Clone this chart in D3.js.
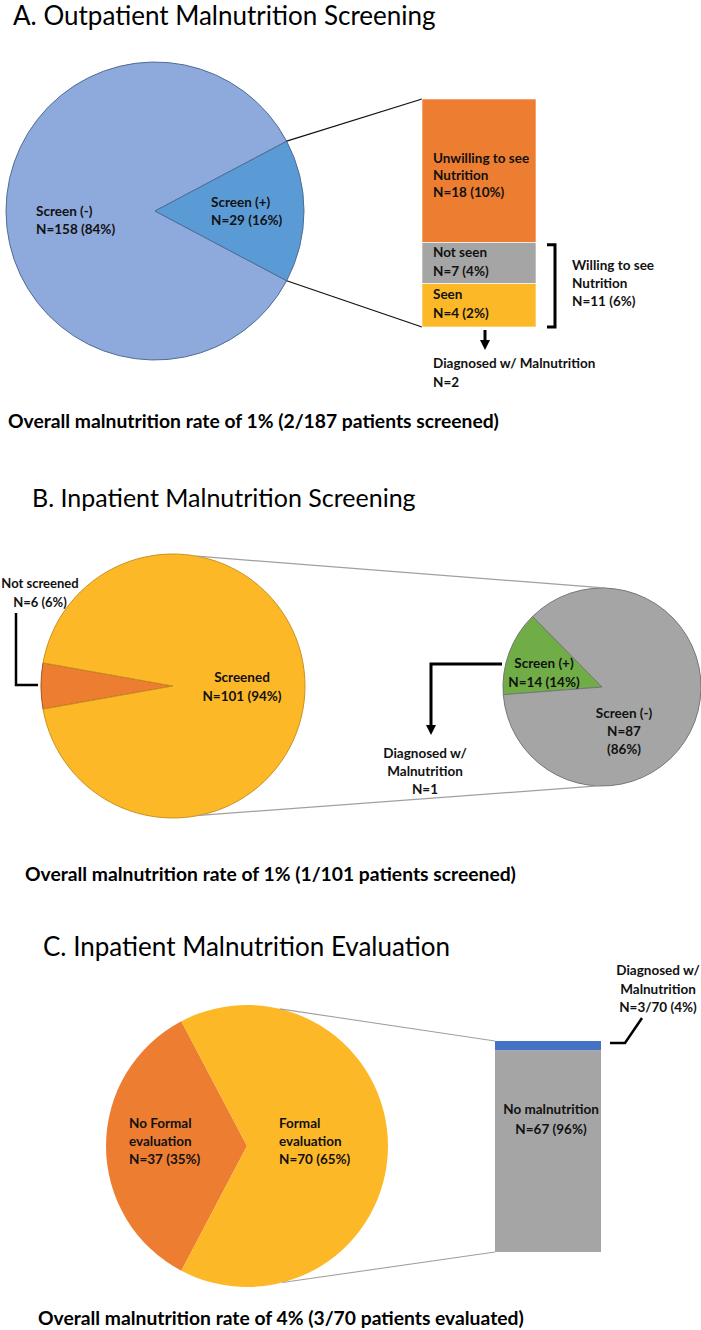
<!DOCTYPE html>
<html><head><meta charset="utf-8">
<script src="https://cdn.jsdelivr.net/npm/d3@7"></script>
<style>
body{margin:0;background:#fff}
svg{display:block}
text{font-family:Lato,"Open Sans",sans-serif;fill:#111}
</style>
</head><body>
<svg id="c" width="701" height="1330"></svg>
<script>
// ---------------- DATA ----------------
const titles = ["A. Outpatient Malnutrition Screening", "B. Inpatient Malnutrition Screening", "C. Inpatient Malnutrition Evaluation"];
const summaries = ["Overall malnutrition rate of 1% (2/187 patients screened)",
                   "Overall malnutrition rate of 1% (1/101 patients screened)",
                   "Overall malnutrition rate of 4% (3/70 patients evaluated)"];

// Panel A
const pieACategories = ["Screen (-)", "Screen (+)"];
const pieAValues = [158, 29];
const pieAPercents = ["84%", "16%"];
const barACategories = [["Unwilling to see", "Nutrition"], ["Not seen"], ["Seen"]];
const barAValues = [18, 7, 4];
const barAPercents = ["10%", "4%", "2%"];
const barADrawnShares = [63, 18, 19];   // share of the bar height as drawn in the figure
const willingLabel = ["Willing to see", "Nutrition", "N=11 (6%)"];
const diagnosedA = ["Diagnosed w/ Malnutrition", "N=2"];

// Panel B
const pieB1Categories = ["Not screened", "Screened"];
const pieB1Values = [6, 101];
const pieB1Percents = ["6%", "94%"];
const pieB2Categories = ["Screen (+)", "Screen (-)"];
const pieB2Values = [14, 87];
const pieB2Percents = ["14%", "86%"];
const diagnosedB = ["Diagnosed w/", "Malnutrition", "N=1"];

// Panel C
const pieCCategories = ["No Formal evaluation", "Formal evaluation"];
const pieCValues = [37, 70];
const pieCPercents = ["35%", "65%"];
const barCCategories = ["Diagnosed w/ Malnutrition", "No malnutrition"];
const barCValues = [3, 67];
const barCPercents = ["4%", "96%"];

// ---------------- HELPERS ----------------
const svg = d3.select("#c");
const TAU = Math.PI * 2;
const LBL = 13.5;

function lines(x, y, arr, opt = {}) {
  const size = opt.size || LBL, lh = opt.lh || 18;
  const t = svg.append("text")
    .attr("x", x).attr("y", y)
    .attr("text-anchor", opt.anchor || "start")
    .style("font-size", size + "px")
    .style("font-weight", opt.weight || 700);
  arr.forEach((s, i) => t.append("tspan").attr("x", x).attr("dy", i === 0 ? 0 : lh).text(s));
  return t;
}

function pie(cx, cy, r, values, colors, idx, centerAngle, stroke, strokeW) {
  const tot = d3.sum(values);
  const before = d3.sum(values.slice(0, idx));
  const start = centerAngle - (before + values[idx] / 2) / tot * TAU;
  const arcsData = d3.pie().sort(null).startAngle(start).endAngle(start + TAU)(values);
  const arc = d3.arc().innerRadius(0).outerRadius(r);
  const g = svg.append("g").attr("transform", `translate(${cx},${cy})`);
  g.selectAll("path").data(arcsData).join("path")
    .attr("d", arc)
    .attr("fill", (d, i) => colors[i])
    .attr("stroke", (d, i) => Array.isArray(stroke) ? stroke[i] : stroke)
    .attr("stroke-width", strokeW)
    .attr("stroke-linejoin", "round");
  return arcsData;
}
const pt = (cx, cy, r, a) => [cx + r * Math.sin(a), cy - r * Math.cos(a)];
const deg = d => d * Math.PI / 180;

function arrowDown(x, y0, y1, w) {
  svg.append("line").attr("x1", x).attr("x2", x).attr("y1", y0).attr("y2", y1 - 8)
    .attr("stroke", "#000").attr("stroke-width", w);
  svg.append("path").attr("d", `M${x - 5},${y1 - 10}L${x + 5},${y1 - 10}L${x},${y1}Z`).attr("fill", "#000");
}

// ---------------- TITLES ----------------
const titlePos = [[13, 24.5, 26], [32, 507, 25], [43, 956, 26]];
titles.forEach((t, i) => svg.append("text").attr("x", titlePos[i][0]).attr("y", titlePos[i][1])
  .style("font-size", titlePos[i][2] + "px").style("font-weight", 400).style("fill", "#000").text(t));
const sumPos = [[8, 428], [25, 881], [38, 1325]];
summaries.forEach((t, i) => svg.append("text").attr("x", sumPos[i][0]).attr("y", sumPos[i][1])
  .style("font-size", "19.3px").style("font-weight", 700).style("fill", "#000").text(t));

// ---------------- PANEL A ----------------
{
  const cx = 155, cy = 211, r = 149;
  const arcs = pie(cx, cy, r, pieAValues, ["#8EA9DB", "#5B9BD5"], 1, Math.PI / 2, "#4f6d96", 1);
  const bx = 422, bw = 114, by0 = 99, by1 = 327;
  const yA = d3.scaleLinear().domain([0, d3.sum(barADrawnShares)]).range([by0, by1]);
  const cum = [0]; barADrawnShares.forEach(v => cum.push(cum[cum.length - 1] + v));
  const segColors = ["#ED7D31", "#A5A5A5", "#FDB827"];
  // zoom lines
  const up = pt(cx, cy, r, arcs[1].startAngle), lo = pt(cx, cy, r, arcs[1].endAngle);
  svg.append("line").attr("x1", up[0]).attr("y1", up[1]).attr("x2", bx).attr("y2", yA(0))
    .attr("stroke", "#111").attr("stroke-width", 1.3);
  svg.append("line").attr("x1", lo[0]).attr("y1", lo[1]).attr("x2", bx).attr("y2", yA(cum[3]))
    .attr("stroke", "#111").attr("stroke-width", 1.3);
  svg.append("g").selectAll("rect").data(barADrawnShares).join("rect")
    .attr("x", bx).attr("width", bw)
    .attr("y", (d, i) => yA(cum[i])).attr("height", d => yA(d) - yA(0))
    .attr("fill", (d, i) => segColors[i]).attr("stroke", "#ffffff").attr("stroke-width", 0.6);
  const firstOff = [64, 14, 15];
  barACategories.forEach((c, i) => {
    const arr = c.concat([`N=${barAValues[i]} (${barAPercents[i]})`]);
    lines(bx + 11, yA(cum[i]) + firstOff[i], arr, { lh: i === 0 ? 17 : 19 });
  });
  // pie labels
  lines(36, 216, [pieACategories[0], `N=${pieAValues[0]} (${pieAPercents[0]})`], { lh: 17.5 });
  lines(211, 207, [pieACategories[1], `N=${pieAValues[1]} (${pieAPercents[1]})`], { lh: 18 });
  // bracket
  const bt = yA(cum[1]) + 2, bb = yA(cum[3]);
  svg.append("path").attr("d", `M547,${bt}H555V${bb}H547`).attr("fill", "none")
    .attr("stroke", "#000").attr("stroke-width", 3);
  const bm = (bt + bb) / 2;
  lines(572, bm - 16, willingLabel, { lh: 18 });
  arrowDown(485, bb + 3, bb + 23, 3);
  lines(433, 368, diagnosedA, { lh: 18.5 });
}

// ---------------- PANEL B ----------------
{
  const cx = 173, cy = 686, r = 132;
  pie(cx, cy, r, pieB1Values, ["#ED7D31", "#FDB827"], 0, -Math.PI / 2, ["#a4521c", "#c99220"], 1);
  const cx2 = 602, cy2 = 687, r2 = 99;
  pie(cx2, cy2, r2, pieB2Values, ["#70AD47", "#A5A5A5"], 0, deg(-69.5), "#767676", 1);
  // connector lines
  const a = pt(cx, cy, r, deg(10.4)), b = pt(cx2, cy2, r2, deg(2.9));
  const c = pt(cx, cy, r, deg(168.4)), d = pt(cx2, cy2, r2, deg(182.3));
  [[a, b], [c, d]].forEach(([p, q]) => svg.append("line")
    .attr("x1", p[0]).attr("y1", p[1]).attr("x2", q[0]).attr("y2", q[1])
    .attr("stroke", "#a0a0a0").attr("stroke-width", 1.2));
  // Not screened label + leader
  svg.append("path").attr("d", "M16,613V685H38").attr("fill", "none").attr("stroke", "#000").attr("stroke-width", 2.5);
  lines(40, 588, [pieB1Categories[0], `N=${pieB1Values[0]} (${pieB1Percents[0]})`], { anchor: "middle", lh: 19, size: 13 });
  lines(242, 682, [pieB1Categories[1], `N=${pieB1Values[1]} (${pieB1Percents[1]})`], { anchor: "middle", lh: 19 });
  lines(544, 668, [pieB2Categories[0], `N=${pieB2Values[0]} (${pieB2Percents[0]})`], { anchor: "middle", lh: 19 });
  lines(624, 718, [pieB2Categories[1], `N=${pieB2Values[1]}`, `(${pieB2Percents[1]})`], { anchor: "middle", lh: 18 });
  svg.append("path").attr("d", "M502,664H431V726").attr("fill", "none").attr("stroke", "#000").attr("stroke-width", 3);
  svg.append("path").attr("d", "M426,725L436,725L431,735Z").attr("fill", "#000");
  lines(425, 758, diagnosedB, { anchor: "middle", lh: 18 });
}

// ---------------- PANEL C ----------------
{
  const cx = 247, cy = 1146, r = 141;
  pie(cx, cy, r, pieCValues, ["#ED7D31", "#FDB827"], 0, -Math.PI / 2, "none", 0);
  const bx = 495, bw = 106;
  const yC = d3.scaleLinear().domain([0, d3.sum(barCValues)]).range([1041, 1252]);
  const cum = [0, barCValues[0], barCValues[0] + barCValues[1]];
  const a = pt(cx, cy, r, deg(13.4)), c = pt(cx, cy, r, deg(165.5));
  svg.append("line").attr("x1", a[0]).attr("y1", a[1]).attr("x2", bx).attr("y2", yC(0))
    .attr("stroke", "#a0a0a0").attr("stroke-width", 1.1);
  svg.append("line").attr("x1", c[0]).attr("y1", c[1]).attr("x2", bx).attr("y2", yC(cum[2]))
    .attr("stroke", "#a0a0a0").attr("stroke-width", 1.1);
  svg.append("g").selectAll("rect").data(barCValues).join("rect")
    .attr("x", bx).attr("width", bw)
    .attr("y", (d, i) => yC(cum[i])).attr("height", d => yC(d) - yC(0))
    .attr("fill", (d, i) => ["#4472C4", "#A5A5A5"][i]);
  lines(129, 1128, ["No Formal", "evaluation", `N=${pieCValues[0]} (${pieCPercents[0]})`], { lh: 18 });
  lines(279, 1128, ["Formal", "evaluation", `N=${pieCValues[1]} (${pieCPercents[1]})`], { lh: 18 });
  lines(551, 1114, [barCCategories[1], `N=${barCValues[1]} (${barCPercents[1]})`], { anchor: "middle", lh: 20 });
  svg.append("path").attr("d", "M610,1043H625L642,1018").attr("fill", "none").attr("stroke", "#000").attr("stroke-width", 2.5);
  lines(658, 975, ["Diagnosed w/", "Malnutrition", `N=${barCValues[0]}/${d3.sum(barCValues)} (${barCPercents[0]})`], { anchor: "middle", lh: 18.5 });
}
</script>
</body></html>
